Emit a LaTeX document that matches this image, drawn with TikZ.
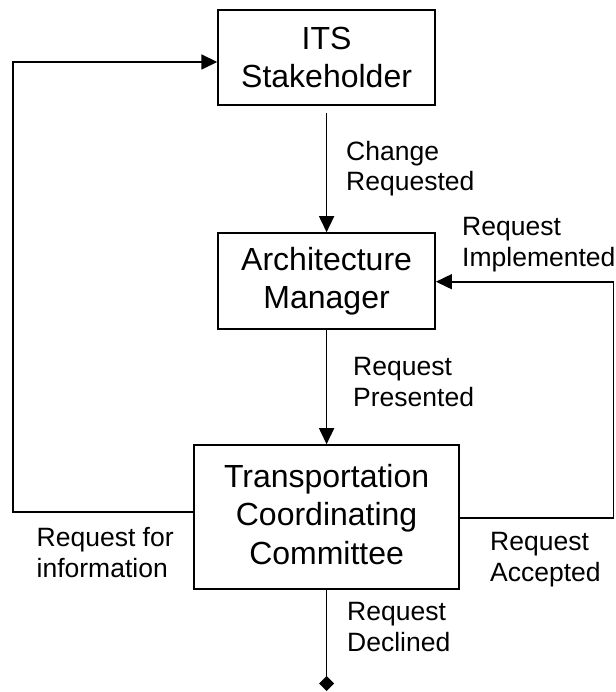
\documentclass[tikz,border=0pt]{standalone}
\usepackage{fontspec}
\setmainfont{Liberation Sans}
\usetikzlibrary{arrows.meta}
\begin{document}
\begin{tikzpicture}[x=1pt,y=-1pt,
  box/.style={draw, line width=1.6pt, align=center, inner sep=0pt,
    font=\fontsize{32}{38.5}\selectfont},
  lbl/.style={anchor=north west, align=left, inner sep=0pt,
    font=\fontsize{26.5}{30.5}\selectfont},
  conn/.style={line width=1.6pt},
  arr/.style={conn, -{Triangle[length=16pt,width=15pt]}},
  endmark/.style={conn, -{Diamond[length=15pt,width=15pt]}}]
\useasboundingbox[fill=white] (0,0) rectangle (615,692);
% boxes
\node[box, minimum width=217pt, minimum height=95pt] (its) at (326.6,57.5) {ITS\\Stakeholder};
\node[box, minimum width=217pt, minimum height=96pt] (am) at (326.6,281) {Architecture\\Manager};
\node[box, minimum width=265pt, minimum height=144pt] (tcc) at (326.6,517) {Transportation\\Coordinating\\Committee\rule[-6pt]{0pt}{6pt}};
% connector end points
\coordinate (lc) at (13,512);
\coordinate (rc) at (613.5,518);
\coordinate (endpt) at (326.6,691);
% connectors
\draw[arr, shorten <=7pt] (its.south) -- (am.north);
\draw[arr] (am.south) -- (tcc.north);
\draw[arr] (tcc.west |- lc) -- (lc) |- ([yshift=-4.5pt]its.west);
\draw[arr] (tcc.east |- rc) -- (rc) |- ([yshift=-0.7pt]am.east);
\draw[endmark] (tcc.south) -- (endpt);
% labels
\node[lbl] (l1) at (346,141) {Change\\Requested};
\node[lbl] (l2) at (462,217.5) {Request\\Implemented};
\node[lbl] (l3) at (353,357.5) {Request\\Presented};
\node[lbl] (l4) at (36.5,527.5) {Request for\\information};
\node[lbl] (l5) at (490,532.5) {Request\\Accepted};
\node[lbl] (l6) at (347,602.5) {Request\\Declined};
\end{tikzpicture}
\end{document}
